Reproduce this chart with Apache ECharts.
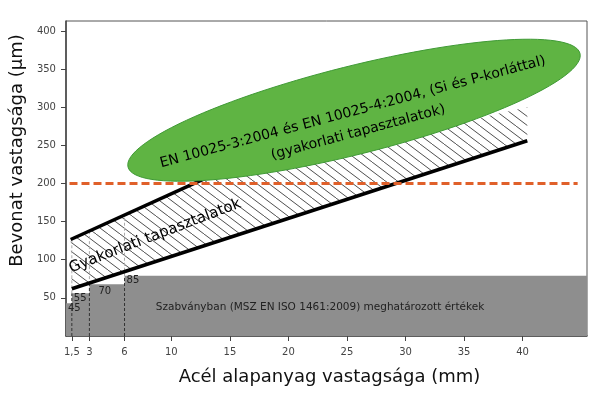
<!DOCTYPE html>
<html>
<head>
<meta charset="utf-8">
<script src="https://cdn.jsdelivr.net/npm/echarts@6/dist/echarts.min.js"></script>
<style>
  html, body { margin: 0; padding: 0; background: #fff; }
  #chart { width: 602px; height: 399px; }
</style>
</head>
<body>
<div id="chart"></div>
<script>
  // tick positions
  const xTicks = [1.5, 3, 6, 10, 15, 20, 25, 30, 35, 40]
  const yTicks = [50, 100, 150, 200, 250, 300, 350, 400]

  // MSZ EN ISO 1461:2009 minimum, step edges (mm) and heights as drawn (µm)
  const stepEdges = [1, 1.5, 3, 6, 45.5]
  const stepHeights = [43, 56, 68, 79]
  const stepLabels = ['45', '55', '70', '85']

  // gyakorlati tapasztalatok band
  const practiceLow = [[1.5, 62], [40.4, 256]]
  const practiceHigh = [[1.4, 126.5], [12.8, 206]]
  const hatchTop = [[1.4, 126.5], [12.8, 206], [40.4, 300]]

  // 200 µm line
  const limitLine = [[1.3, 200], [44.7, 200]]

  // EN 10025 region centre
  const enRegion = [[25.6, 296]]

  const FONT = '"DejaVu Sans", sans-serif'

  function hatchPattern() {
    const w = 24, h = 18
    const c = document.createElement('canvas')
    c.width = w
    c.height = h
    const ctx = c.getContext('2d')
    ctx.strokeStyle = '#222'
    ctx.lineWidth = 0.8
    ;[-24, -12, 0, 12, 24].forEach(function (off) {
      ctx.beginPath()
      ctx.moveTo(off, 0)
      ctx.lineTo(off + w, h)
      ctx.stroke()
    })
    return c
  }

  // value of upper black line at x
  function highAt(x) {
    const a = practiceHigh[0], b = practiceHigh[1]
    return a[1] + (b[1] - a[1]) * (x - a[0]) / (b[0] - a[0])
  }

  const stepData = stepHeights.map((h, i) => [stepEdges[i], h])
  stepData.push([stepEdges[stepEdges.length - 1], stepHeights[stepHeights.length - 1]])

  const chart = echarts.init(document.getElementById('chart'))
  const pattern = hatchPattern()

  const option = {
    animation: false,
    backgroundColor: '#fff',
    grid: {
      left: 63, right: 15, top: 21, bottom: 63,
      show: true, borderColor: '#555', borderWidth: 1
    },
    xAxis: {
      type: 'value',
      min: 1,
      max: 45.5,
      name: 'Acél alapanyag vastagsága (mm)',
      nameLocation: 'middle',
      nameGap: 32,
      nameTextStyle: { fontFamily: FONT, fontSize: 18, color: '#111', padding: [0, 0, 0, 6] },
      splitLine: { show: false },
      axisLine: { lineStyle: { color: '#444', width: 1.5 } },
      axisTick: { customValues: xTicks, length: 5, lineStyle: { color: '#444' } },
      axisLabel: {
        customValues: xTicks,
        margin: 11,
        fontFamily: FONT,
        fontSize: 10,
        color: '#444',
        formatter: v => String(v).replace('.', ',')
      }
    },
    yAxis: {
      type: 'value',
      min: 0,
      max: 413,
      name: 'Bevonat vastagsága (µm)',
      nameLocation: 'middle',
      nameRotate: 90,
      nameGap: 33,
      nameTextStyle: { fontFamily: FONT, fontSize: 18, color: '#111', padding: [0, 0, 0, 56] },
      splitLine: { show: false },
      axisLine: { show: true, lineStyle: { color: '#444', width: 1.5 } },
      axisTick: { show: true, customValues: yTicks, length: 5, lineStyle: { color: '#444' } },
      axisLabel: {
        customValues: yTicks,
        margin: 10,
        fontFamily: FONT,
        fontSize: 10,
        color: '#444'
      }
    },
    series: [
      {
        name: 'szabvány',
        type: 'line',
        step: 'end',
        data: stepData,
        symbol: 'none',
        lineStyle: { width: 0 },
        areaStyle: { color: '#8e8e8e', opacity: 1 },
        z: 1
      },
      {
        name: 'sáv',
        type: 'custom',
        data: [0],
        z: 2,
        renderItem: function (params, api) {
          const pts = practiceLow.map(p => api.coord(p))
            .concat(hatchTop.slice().reverse().map(p => api.coord(p)))
          return {
            type: 'polygon',
            shape: { points: pts },
            style: { fill: { image: pattern, repeat: 'repeat' }, stroke: null }
          }
        }
      },
      {
        name: 'lépcsők',
        type: 'custom',
        data: stepHeights.map((h, i) => [stepEdges[i], h]),
        z: 3,
        renderItem: function (params, api) {
          const i = params.dataIndex
          const p = api.coord([stepEdges[i], stepHeights[i]])
          const children = [{
            type: 'text',
            x: p[0] + (i === 2 ? 9 : 2),
            y: p[1] + (i === 2 ? 7 : 5),
            style: {
              text: stepLabels[i], fill: '#222', font: '10px ' + FONT,
              align: 'left', verticalAlign: 'middle'
            }
          }]
          if (i > 0) {
            const x = stepEdges[i]
            const b = api.coord([x, 0])
            const m = api.coord([x, stepHeights[i]])
            const t = api.coord([x, highAt(x)])
            children.push({
              type: 'line',
              shape: { x1: b[0], y1: b[1], x2: m[0], y2: m[1] },
              style: { stroke: '#333', lineWidth: 1, lineDash: [3, 2] }
            })
            children.push({
              type: 'line',
              shape: { x1: m[0], y1: m[1], x2: t[0], y2: t[1] },
              style: { stroke: '#aaa', lineWidth: 1, lineDash: [3, 2] }
            })
          }
          return { type: 'group', children: children }
        }
      },
      {
        name: 'alsó',
        type: 'line',
        data: practiceLow,
        symbol: 'none',
        lineStyle: { color: '#000', width: 3.5 },
        z: 4
      },
      {
        name: 'felső',
        type: 'line',
        data: practiceHigh,
        symbol: 'none',
        lineStyle: { color: '#000', width: 3.5 },
        z: 4
      },
      {
        name: '200 µm',
        type: 'line',
        data: limitLine,
        symbol: 'none',
        lineStyle: { color: '#e0602a', width: 3, type: [8, 4] },
        z: 5
      },
      {
        name: 'EN 10025',
        type: 'custom',
        data: enRegion,
        z: 6,
        renderItem: function (params, api) {
          const c = api.coord([api.value(0), api.value(1)])
          const rx = 233, ry = 44, th = 14.1 * Math.PI / 180
          const pts = []
          for (let k = 0; k < 120; k++) {
            const t = k / 120 * Math.PI * 2
            const u = rx * Math.cos(t), v = ry * Math.sin(t)
            pts.push([
              c[0] + u * Math.cos(th) + v * Math.sin(th),
              c[1] - u * Math.sin(th) + v * Math.cos(th)
            ])
          }
          return {
            type: 'group',
            children: [
              {
                type: 'polygon',
                shape: { points: pts },
                style: { fill: '#5fb443', stroke: '#3f9a35', lineWidth: 1 }
              },
              {
                type: 'text',
                x: c[0] + 1.5,
                y: c[1] + 12,
                rotation: 15 * Math.PI / 180,
                style: {
                  text: 'EN 10025-3:2004 és EN 10025-4:2004, (Si és P-korláttal)\n(gyakorlati tapasztalatok)',
                  fill: '#000', font: '14px ' + FONT, lineHeight: 21,
                  align: 'center', verticalAlign: 'middle'
                }
              }
            ]
          }
        }
      }
    ],
    graphic: [
      {
        type: 'text',
        x: 155, y: 236, z: 100,
        rotation: 21 * Math.PI / 180,
        style: {
          text: 'Gyakorlati tapasztalatok', fill: '#000', font: '15px ' + FONT,
          align: 'center', verticalAlign: 'middle'
        }
      },
      {
        type: 'text',
        x: 320, y: 307, z: 100,
        style: {
          text: 'Szabványban (MSZ EN ISO 1461:2009) meghatározott értékek',
          fill: '#222', font: '10.5px ' + FONT,
          align: 'center', verticalAlign: 'middle'
        }
      }
    ]
  }

  chart.setOption(option)
</script>
</body>
</html>
